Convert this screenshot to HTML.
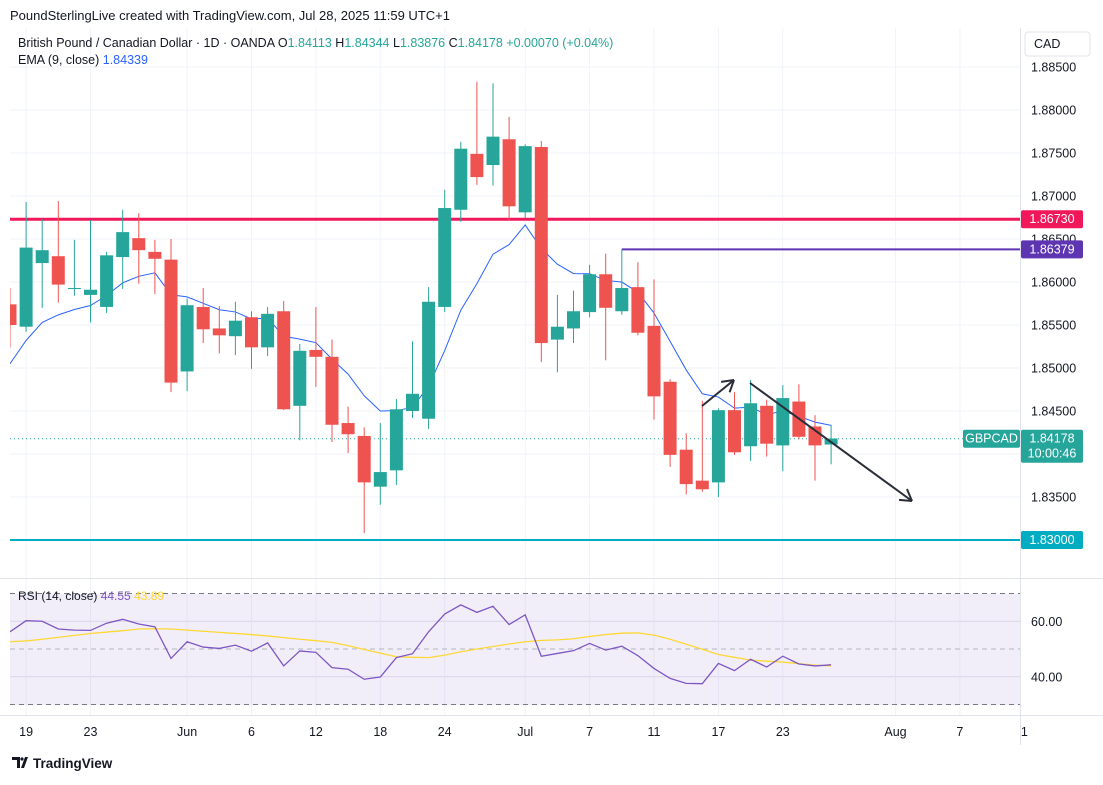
<!DOCTYPE html>
<html><head><meta charset="utf-8">
<style>
body{margin:0;background:#fff;font-family:"Liberation Sans",sans-serif;}
svg text{font-family:"Liberation Sans",sans-serif;}
</style></head>
<body>
<svg id="chart" width="1103" height="780" viewBox="0 0 1103 780" xmlns="http://www.w3.org/2000/svg">
<defs><clipPath id="pane"><rect x="10" y="28" width="1010" height="690"/></clipPath></defs>
<rect x="0" y="0" width="1103" height="780" fill="#ffffff"/>
<text x="10" y="20" font-size="13" fill="#131722">PoundSterlingLive created with TradingView.com, Jul 28, 2025 11:59 UTC+1</text>
<g id="grid"></g>
<rect x="10" y="594" width="1010" height="111" fill="#7e57c2" fill-opacity="0.1"/>
<g id="rsiLines" clip-path="url(#pane)"></g>
<g id="levels"></g>
<g id="candles" clip-path="url(#pane)"></g>
<g id="overlay"></g>
<line x1="0" y1="578.5" x2="1103" y2="578.5" stroke="#e0e3eb" stroke-width="1"/>
<line x1="1020.5" y1="28" x2="1020.5" y2="745" stroke="#e0e3eb" stroke-width="1"/>
<line x1="0" y1="715.5" x2="1103" y2="715.5" stroke="#e0e3eb" stroke-width="1"/>
<g id="axes"></g>
<g>
<text x="18" y="47" font-size="12.5" fill="#131722">British Pound / Canadian Dollar · 1D · OANDA  O<tspan fill="#26a69a">1.84113</tspan>  H<tspan fill="#26a69a">1.84344</tspan>  L<tspan fill="#26a69a">1.83876</tspan>  C<tspan fill="#26a69a">1.84178  +0.00070 (+0.04%)</tspan></text>
<text x="18" y="64" font-size="12.5" fill="#131722">EMA (9, close)  <tspan fill="#2962ff">1.84339</tspan></text>
<text x="18" y="600" font-size="12" fill="#131722">RSI (14, close)  <tspan fill="#7e57c2">44.55</tspan>  <tspan fill="#fdd835">43.89</tspan></text>
</g>
<rect x="1025" y="32" width="65" height="24" rx="3" fill="#fff" stroke="#e0e3eb"/>
<text x="1034" y="48" font-size="12.5" fill="#131722">CAD</text>
<g>
<path d="M12 757 h8 v11 h-3 v-8 h-5z M21 768 l4-11 h3 l-4 11z" fill="#131722"/>
<circle cx="22" cy="759" r="1.6" fill="#131722"/>
<text x="33" y="768" font-size="13.5" font-weight="bold" fill="#131722">TradingView</text>
</g>
</svg>
<script>
const opens=[1.8574,1.8548,1.8622,1.8630,1.8592,1.8585,1.8571,1.8629,1.8651,1.8635,1.8626,1.8496,1.8571,1.8546,1.8537,1.8559,1.8524,1.8566,1.8456,1.8521,1.8513,1.8436,1.8421,1.8362,1.8381,1.8450,1.8441,1.8571,1.8684,1.8749,1.8736,1.8766,1.8681,1.8757,1.8533,1.8546,1.8565,1.8609,1.8566,1.8594,1.8549,1.8484,1.8405,1.8369,1.8367,1.8451,1.8409,1.8456,1.8410,1.8461,1.8432,1.8411];
const highs=[1.8593,1.8693,1.8673,1.8694,1.8649,1.8672,1.8635,1.8684,1.8680,1.8649,1.8650,1.8581,1.8593,1.8572,1.8577,1.8566,1.8571,1.8578,1.8528,1.8571,1.8533,1.8455,1.8431,1.8436,1.8464,1.8531,1.8594,1.8707,1.8763,1.8833,1.8831,1.8792,1.8760,1.8764,1.8585,1.8590,1.8620,1.8633,1.8638,1.8623,1.8603,1.8487,1.8424,1.8462,1.8453,1.8472,1.8486,1.8463,1.8480,1.8481,1.8445,1.8434];
const lows=[1.8524,1.8542,1.8570,1.8576,1.8584,1.8553,1.8564,1.8592,1.8598,1.8586,1.8472,1.8473,1.8529,1.8517,1.8515,1.8499,1.8514,1.8451,1.8416,1.8478,1.8414,1.8401,1.8308,1.8341,1.8364,1.8442,1.8429,1.8565,1.8670,1.8713,1.8712,1.8671,1.8674,1.8507,1.8495,1.8529,1.8559,1.8509,1.8562,1.8538,1.8440,1.8385,1.8353,1.8356,1.8350,1.8399,1.8392,1.8397,1.8380,1.8417,1.8369,1.8388];
const closes=[1.8550,1.8640,1.8637,1.8597,1.8593,1.8591,1.8631,1.8658,1.8637,1.8627,1.8483,1.8573,1.8545,1.8538,1.8555,1.8524,1.8563,1.8452,1.8520,1.8513,1.8434,1.8423,1.8367,1.8379,1.8452,1.8470,1.8577,1.8686,1.8755,1.8722,1.8769,1.8688,1.8758,1.8529,1.8548,1.8566,1.8609,1.8570,1.8593,1.8541,1.8467,1.8399,1.8365,1.8359,1.8451,1.8402,1.8459,1.8412,1.8465,1.8420,1.8410,1.8418];
const emaSeed=1.8505;
const rsiValues=[56.2,60.2,60.0,57.2,56.8,56.7,59.3,60.7,59.0,58.0,46.6,52.6,50.7,50.2,51.4,49.2,52.2,43.9,49.3,48.8,43.3,42.7,39.1,39.9,46.9,48.3,56.2,62.6,65.9,63.2,65.4,58.8,62.3,47.4,48.4,49.4,52.0,49.6,51.0,47.6,43.0,39.4,37.6,37.5,44.8,42.2,46.3,43.5,47.4,44.6,43.9,44.3];
const rsiMa=[52.6,52.9,53.5,54.2,54.9,55.6,56.1,56.6,57.2,57.3,57.2,56.8,56.4,56.0,55.6,55.2,54.7,54.1,53.5,53.0,52.4,51.2,49.8,48.5,47.2,47.0,46.9,47.8,49.0,50.0,50.9,51.8,52.6,53.1,53.3,53.7,54.5,55.2,55.7,55.8,55.0,53.5,51.7,49.9,48.0,47.0,46.0,45.6,45.3,44.7,44.2,43.9];
const priceTicks=[1.885,1.880,1.875,1.870,1.865,1.860,1.855,1.850,1.845,1.835];
const gridPrices=[1.885,1.880,1.875,1.870,1.865,1.860,1.855,1.850,1.845,1.840,1.835,1.830];
const timeLabels=["19","23","Jun","6","12","18","24","Jul","7","11","17","23","Aug","7","1"];
const timeIndex=[1,5,11,15,19,23,27,32,36,40,44,48,55,59,63];
const rsiTicks=[60,40];
const levelRed=1.8673, levelPurple=1.86379, levelTeal=1.8300, lastPrice=1.84178;

const NS="http://www.w3.org/2000/svg";
const X=i=>10+16.1*i;
const Y=p=>67+(1.885-p)*8600;
const R=v=>649-(v-50)*2.775;
function mk(tag,attrs,parent){const e=document.createElementNS(NS,tag);for(const k in attrs)e.setAttribute(k,attrs[k]);parent.appendChild(e);return e;}
const grid=document.getElementById('grid'),axes=document.getElementById('axes'),cg=document.getElementById('candles'),lv=document.getElementById('levels'),ov=document.getElementById('overlay'),rg=document.getElementById('rsiLines');

gridPrices.forEach(p=>{const l=mk('line',{x1:10,x2:1020,y1:Y(p),y2:Y(p),stroke:'#f0f3fa'},grid);

});
[60,40].forEach(v=>{const l=mk('line',{x1:10,x2:1020,y1:R(v),y2:R(v),stroke:'#e6e3ef'},grid);

});
timeIndex.forEach((ti,k)=>{const x=X(ti);if(x<1020){const l=mk('line',{x1:x,x2:x,y1:28,y2:715,stroke:'#f0f3fa'},grid);

}
const t=mk('text',{x:x,y:736,'font-size':12.5,fill:'#131722','text-anchor':'middle'},axes);t.textContent=timeLabels[k];

});
priceTicks.forEach(p=>{const t=mk('text',{x:1031,y:Y(p)+4.5,'font-size':12.5,fill:'#131722'},axes);t.textContent=p.toFixed(5);

});
rsiTicks.forEach(v=>{const t=mk('text',{x:1031,y:R(v)+4.5,'font-size':12.5,fill:'#131722'},axes);t.textContent=v.toFixed(2);

});

[70,50,30].forEach(v=>{const l=mk('line',{x1:10,x2:1020,y1:R(v),y2:R(v),stroke:v==50?'#b2b5be':'#787b86','stroke-dasharray':'5,4'},rg);

});
const maLine=mk('polyline',{points:rsiMa.map((v,i)=>X(i)+','+R(v)).join(' '),fill:'none',stroke:'#fdd835','stroke-width':1.3},rg);


const rsiLine=mk('polyline',{points:rsiValues.map((v,i)=>X(i)+','+R(v)).join(' '),fill:'none',stroke:'#7e57c2','stroke-width':1.3},rg);



const lr=mk('line',{x1:10,x2:1020,y1:Y(levelRed),y2:Y(levelRed),stroke:'#f0185a','stroke-width':3},lv);


const lp=mk('line',{x1:X(38),x2:1020,y1:Y(levelPurple),y2:Y(levelPurple),stroke:'#5e35b1','stroke-width':2},lv);


const lt=mk('line',{x1:10,x2:1020,y1:Y(levelTeal),y2:Y(levelTeal),stroke:'#00acc1','stroke-width':2},lv);


const ld=mk('line',{x1:10,x2:1020,y1:Y(lastPrice),y2:Y(lastPrice),stroke:'#26a69a','stroke-dasharray':'1,3'},lv);



let e=emaSeed;const k=2/10;const ema=closes.map((c,i)=>{if(i>0)e=c*k+e*(1-k);return e;});
const emaL=mk('polyline',{points:ema.map((v,i)=>X(i)+','+Y(v)).join(' '),fill:'none',stroke:'#2962ff','stroke-width':1},cg);



closes.forEach((c,i)=>{const o=opens[i],up=c>=o,col=up?'#26a69a':'#ef5350',x=X(i);
const w=mk('line',{x1:x,x2:x,y1:Y(highs[i]),y2:Y(lows[i]),stroke:col,'stroke-width':1},cg);


const top=Y(Math.max(o,c)),h=Math.max(1,Math.abs(Y(o)-Y(c)));
const b=mk('rect',{x:x-6.5,y:top,width:13,height:h,fill:col},cg);

});

function arrow(x1,y1,x2,y2,name){const g=mk('g',{},ov);


mk('line',{x1,y1,x2,y2,stroke:'#2a2e39','stroke-width':2},g);
const a=Math.atan2(y2-y1,x2-x1),L=13;
[a+2.6,a-2.6].forEach(b=>mk('line',{x1:x2,y1:y2,x2:x2+L*Math.cos(b),y2:y2+L*Math.sin(b),stroke:'#2a2e39','stroke-width':2},g));}
arrow(702,406,734,380,'up-arrow');
arrow(750,383,912,501,'down-arrow');

function box(y,w,h,x,fill,lines,name){const g=mk('g',{},axes);


mk('rect',{x:x,y:y,width:w,height:h,fill:fill,rx:2},g);
lines.forEach((t,j)=>{const tx=mk('text',{x:x+w/2,y:y+13+j*15,'font-size':12.5,fill:'#fff','text-anchor':'middle'},g);tx.textContent=t;});}
box(Y(levelRed)-9,62,18,1021,'#f0185a',[levelRed.toFixed(5)],'resistance-label');
box(Y(levelPurple)-9,62,18,1021,'#5e35b1',[levelPurple.toFixed(5)],'swing-high-label');
box(Y(levelTeal)-9,62,18,1021,'#00acc1',[levelTeal.toFixed(5)],'support-label');
box(Y(lastPrice)-9,62,33,1021,'#26a69a',[lastPrice.toFixed(5),'10:00:46'],'last-price-label');
box(Y(lastPrice)-9,57,18,963,'#26a69a',['GBPCAD'],'symbol-label');
</script>
</body></html>
